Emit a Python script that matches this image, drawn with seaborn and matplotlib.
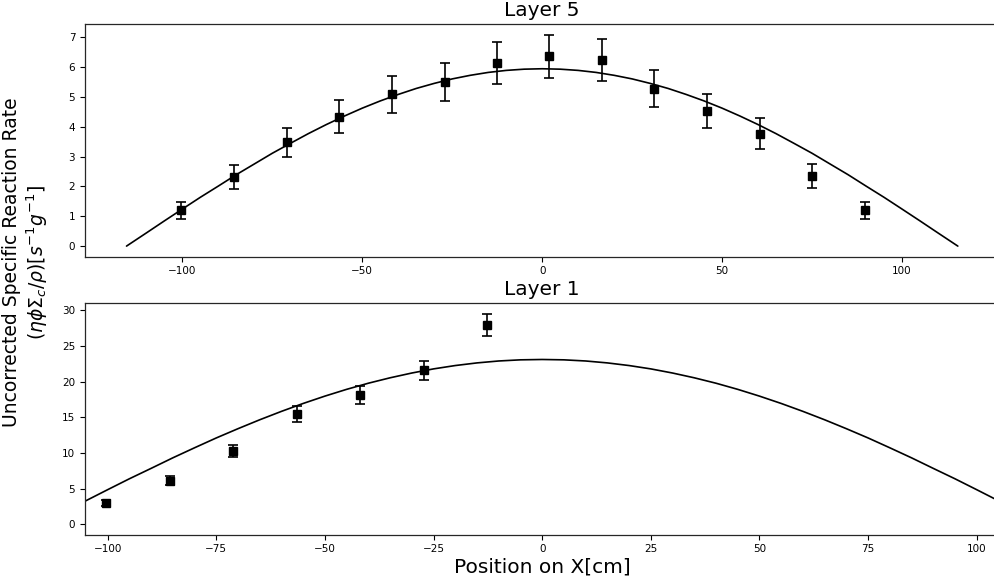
import seaborn as sns
from matplotlib import pyplot as plt

# measured points, layer 5 (top panel)
layer5_x = [-100.4, -85.7, -71.0, -56.5, -41.8, -27.1, -12.6, 2.0, 16.6, 31.2, 45.8, 60.5, 75.0, 89.6]
layer5_y = [1.20, 2.31, 3.48, 4.34, 5.08, 5.49, 6.13, 6.36, 6.23, 5.27, 4.52, 3.76, 2.35, 1.20]
layer5_err = [0.29, 0.39, 0.49, 0.56, 0.61, 0.64, 0.70, 0.72, 0.70, 0.62, 0.57, 0.52, 0.41, 0.29]

# measured points, layer 1 (bottom panel)
layer1_x = [-100.3, -85.7, -71.1, -56.5, -41.9, -27.3, -12.65]
layer1_y = [2.93, 6.06, 10.25, 15.42, 18.12, 21.57, 28.00]
layer1_err = [0.42, 0.63, 0.88, 1.10, 1.23, 1.35, 1.54]

# fitted curves
curve_x = [-115.5, -110, -105, -100, -95, -90, -85, -80, -75, -70, -65, -60, -55, -50,
           -45, -40, -35, -30, -25, -20, -15, -10, -5, 0,
           5, 10, 15, 20, 25, 30, 35, 40, 45, 50, 55, 60, 65, 70,
           75, 80, 85, 90, 95, 100, 105, 110, 115.5]
layer5_curve = [0.0, 0.44, 0.843, 1.24, 1.634, 2.01, 2.392, 2.75, 3.109, 3.44, 3.766, 4.07, 4.354, 4.62,
                4.862, 5.08, 5.28, 5.45, 5.60, 5.72, 5.817, 5.885, 5.926, 5.94,
                5.926, 5.885, 5.817, 5.72, 5.60, 5.45, 5.28, 5.08, 4.862, 4.62, 4.354, 4.07, 3.766, 3.44,
                3.109, 2.75, 2.392, 2.01, 1.634, 1.24, 0.843, 0.44, 0.0]
layer1_curve = [0.0, 1.73, 3.28, 4.83, 6.36, 7.82, 9.30, 10.71, 12.09, 13.39, 14.64, 15.82, 16.93, 17.96,
                18.91, 19.77, 20.53, 21.20, 21.78, 22.25, 22.62, 22.89, 23.05, 23.1,
                23.05, 22.89, 22.62, 22.25, 21.78, 21.20, 20.53, 19.77, 18.91, 17.96, 16.93, 15.82, 14.64, 13.39,
                12.09, 10.71, 9.30, 7.82, 6.36, 4.83, 3.28, 1.73, 0.0]

sns.set_style("ticks", {"text.color": "black", "axes.labelcolor": "black",
                        "xtick.color": "black", "ytick.color": "black"})

fig = plt.figure(figsize=(9.95, 5.82), dpi=100)
ax_top = fig.add_axes([0.0854, 0.559, 0.919, 0.3995])
ax_bot = fig.add_axes([0.0854, 0.0813, 0.919, 0.398])


def draw_layer(ax, x, y, err, cx, cy, title):
    sns.lineplot(x=cx, y=cy, ax=ax, color="black", linewidth=1.2, sort=False)
    ax.errorbar(x, y, yerr=err, fmt="s", color="black", markersize=5.5,
                elinewidth=1.2, capsize=3.8, capthick=1.2)
    ax.set_title(title, fontsize=14.5)
    ax.tick_params(labelsize=7.5, length=3.5, width=0.8)
    for s in ax.spines.values():
        s.set_linewidth(0.9)
    # the right spine sits just past the edge of the picture
    ax.spines["right"].set_visible(False)


draw_layer(ax_top, layer5_x, layer5_y, layer5_err, curve_x, layer5_curve, "Layer 5")
draw_layer(ax_bot, layer1_x, layer1_y, layer1_err, curve_x, layer1_curve, "Layer 1")

ax_top.set_yticks(range(0, 8))
ax_bot.set_xlim(-105.2, 105.2)
ax_bot.set_xlabel("Position on X[cm]", fontsize=14.5, labelpad=2)

fig.text(0.026, 0.55,
         "Uncorrected Specific Reaction Rate\n$(\\eta\\phi\\Sigma_c/\\rho)[s^{-1}g^{-1}]$",
         rotation=90, ha="center", va="center", fontsize=13.5, multialignment="center")

fig.savefig("out.png", dpi=100)
